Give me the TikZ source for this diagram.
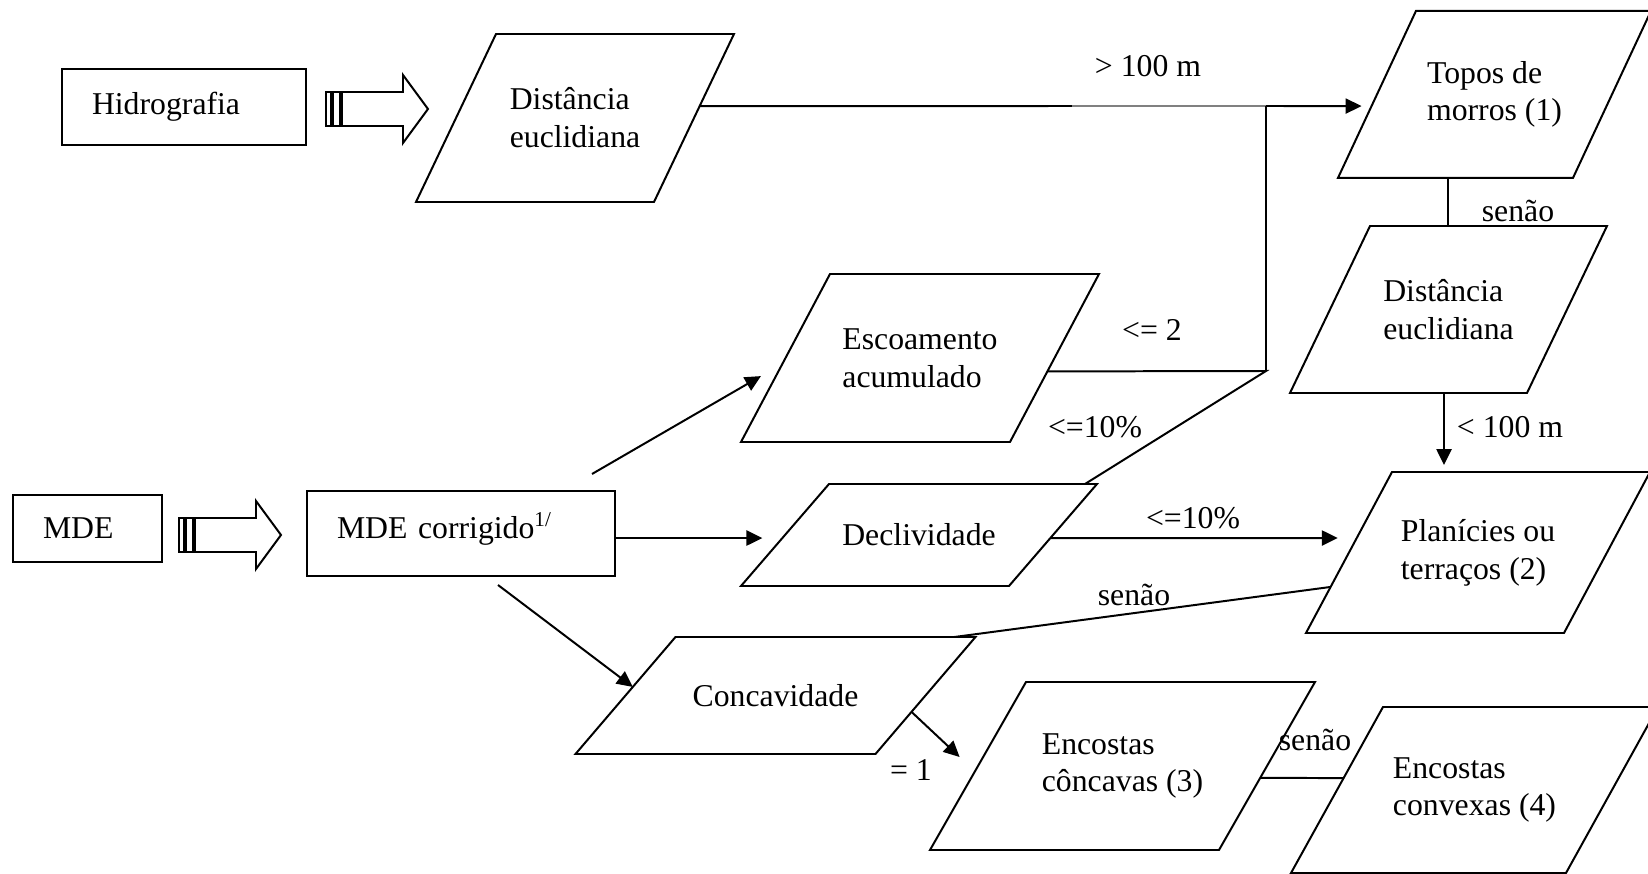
\documentclass[tikz,border=0pt]{standalone}
\usepackage{fontspec}
\setmainfont{Liberation Serif}
\usetikzlibrary{arrows.meta,calc}
\newlength{\pixel}
\setlength{\pixel}{0.378pt}
\tikzset{
	boite/.style n args={2}{draw, align=left, outer sep=0pt, inner xsep=30\pixel, text width=#1\pixel, minimum height=#2\pixel},
	para/.style n args={2}{outer sep=0pt, align=left, minimum width=#1\pixel, minimum height=#2\pixel},
	etiq/.style={inner sep=0pt},
	raye/.pic={
		\draw (0,-17) rectangle (5,17);
		\draw (7,-17) rectangle (14,17);
		\draw (16,-17) -- (77,-17) -- (77,-34) -- (102,0) -- (77,34) -- (77,17) -- (16,17) -- cycle;
	}
}

\begin{document}
\begin{tikzpicture}[x=1\pixel, y=-1\pixel, line width=0.75pt, >={Triangle[length=6pt,width=5.7pt]}, font=\fontsize{12pt}{14.3pt}\selectfont]
	\useasboundingbox (0,0) rectangle (1648,874);

	% entrées
	\node[boite={184}{76}] (hidro) at (184,107) {Hidrografia};
	\node[boite={89}{67}] (mde) at (87.5,528.5) {MDE};
	\node[boite={248}{85}, text depth=6pt] (mdec) at (461,533.5) {MDE corrigido\textsuperscript{1/}};
	\pic at ([xshift=20\pixel, yshift=-2\pixel]hidro.east) {raye};
	\pic at ([xshift=17\pixel, yshift=-6.5\pixel]mde.east) {raye};

	% formes
	\node[para={318}{168}] (dist1) at (575,118) {Distância\\euclidiana};
	\node[para={313}{167}] (topos) at (1494.5,94.4) {Topos de\\morros (1)};
	\node[para={317}{167}] (dist2) at (1448.5,309.5) {Distância\\euclidiana};
	\node[para={358}{168}] (escoa) at (920,358) {Escoamento\\acumulado};
	\node[para={356}{102}] (decl) at (919,535) {Declividade};
	\node[para={344}{161}] (plan) at (1478,552.5) {Planícies ou\\terraços (2)};
	\node[para={400}{117}] (conc) at (775.5,695.5) {Concavidade};
	\node[para={385}{168}] (concav) at (1122.5,766) {Encostas\\côncavas (3)};
	\node[para={367}{166}] (convex) at (1474.5,790) {Encostas\\convexas (4)};

	\foreach \n/\s in {dist1/80, topos/78, dist2/80, escoa/89, decl/88, plan/86, conc/100, concav/96, convex/92} {
		\coordinate (\n-tl) at ([xshift=\s\pixel]\n.north west);
		\coordinate (\n-br) at ([xshift=-\s\pixel]\n.south east);
		\draw (\n-tl) -- (\n.north east) -- (\n-br) -- (\n.south west) -- cycle;
	}

	% flèches
	\coordinate (g) at (1072,106);
	\coordinate (j1) at (1266,106);
	\coordinate (j2) at (1266,371);
	\draw ($(dist1.north east)!0.43!(dist1-br)$) -- (g);
	\draw[line width=0.4pt, gray] (g) -- (j1);
	\draw[->, shorten >=10\pixel] (j1) -- ($(topos.south west)!0.43!(topos-tl)$);
	\draw (j1) -- (j2);
	\draw ($(escoa.north east)!0.58!(escoa-br)$) -- (j2) -- ([xshift=-12\pixel]decl.north east);

	\draw ([xshift=110\pixel]topos.south west) coordinate (t0) -- (t0 |- dist2.north);
	\draw[->, shorten >=7\pixel] ([xshift=154\pixel]dist2.south west) coordinate (d0) -- (d0 |- plan.north);

	\coordinate (dl) at ($(decl.south west)!0.47!(decl-tl)$);
	\draw[->, shorten >=20\pixel] (mdec.east |- dl) -- (dl);
	\draw[->, shorten >=19\pixel] ($(decl.north east)!0.53!(decl-br)$) -- ($(plan.south west)!0.59!(plan-tl)$);
	\draw ($(plan.south west)!0.286!(plan-tl)$) -- ([xshift=-21\pixel]conc.north east);

	\draw[->, shorten >=25\pixel] ([xshift=-23\pixel, yshift=17\pixel]mdec.north east) -- ($(escoa.south west)!0.467!(escoa-tl)$);
	\draw[->] ([xshift=37\pixel, yshift=-9\pixel]mdec.south) -- ($(conc.south west)!0.573!(conc-tl)$);
	\draw[->, shorten >=21\pixel] ($(conc.north east)!0.64!(conc-br)$) -- ($(concav.south west)!0.468!(concav-tl)$);
	\draw ($(concav.north east)!0.571!(concav-br)$) -- ($(convex.south west)!0.572!(convex-tl)$);

	% étiquettes
	\node[etiq] (l1) at (1148,66) {> 100 m};
	\node[etiq] (l2) at (1152,330) {<= 2};
	\node[etiq] (l3) at (1095,427) {<=10\%};
	\node[etiq] (l4) at (1193,518) {<=10\%};
	\node[etiq] (l5) at (1518,211) {senão};
	\node[etiq] (l6) at (1510,427) {< 100 m};
	\node[etiq] (l7) at (1134,595) {senão};
	\node[etiq] (l8) at (911,770) {= 1};
	\node[etiq] (l9) at (1315,740) {senão};
\end{tikzpicture}
\end{document}
